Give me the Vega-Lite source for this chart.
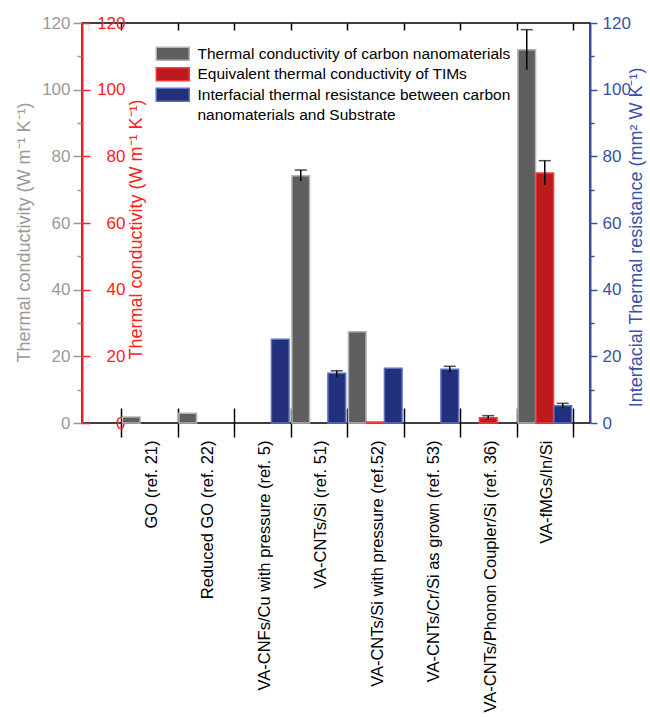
{
  "$schema": "https://vega.github.io/schema/vega-lite/v6.json",
  "width": 508,
  "height": 400,
  "autosize": "none",
  "padding": {"left": 82, "top": 23, "right": 60, "bottom": 294},
  "config": {
    "view": {"stroke": "black", "strokeWidth": 1.5},
    "font": "Liberation Sans",
    "axis": {"grid": false, "titleFontWeight": "normal"}
  },
  "data": {
    "values": [
      {"category": "GO (ref. 21)", "series": "Thermal conductivity of carbon nanomaterials", "value": 1.8, "lo": null, "hi": null},
      {"category": "Reduced GO (ref. 22)", "series": "Thermal conductivity of carbon nanomaterials", "value": 2.9, "lo": null, "hi": null},
      {"category": "VA-CNTs/Si (ref. 51)", "series": "Thermal conductivity of carbon nanomaterials", "value": 74.2, "lo": 72.6, "hi": 75.9},
      {"category": "VA-CNTs/Si with pressure (ref.52)", "series": "Thermal conductivity of carbon nanomaterials", "value": 27.4, "lo": null, "hi": null},
      {"category": "VA-fMGs/In/Si", "series": "Thermal conductivity of carbon nanomaterials", "value": 112, "lo": 106, "hi": 118},
      {"category": "VA-CNTs/Si with pressure (ref.52)", "series": "Equivalent thermal conductivity of TIMs", "value": 0.3, "lo": null, "hi": null},
      {"category": "VA-CNTs/Phonon Coupler/Si (ref. 36)", "series": "Equivalent thermal conductivity of TIMs", "value": 1.6, "lo": 1.1, "hi": 2.2},
      {"category": "VA-fMGs/In/Si", "series": "Equivalent thermal conductivity of TIMs", "value": 75, "lo": 71.5, "hi": 78.7},
      {"category": "VA-CNFs/Cu with pressure (ref. 5)", "series": "Interfacial thermal resistance between carbon nanomaterials and Substrate", "value": 25.1, "lo": null, "hi": null},
      {"category": "VA-CNTs/Si (ref. 51)", "series": "Interfacial thermal resistance between carbon nanomaterials and Substrate", "value": 14.9, "lo": 13.9, "hi": 15.7},
      {"category": "VA-CNTs/Si with pressure (ref.52)", "series": "Interfacial thermal resistance between carbon nanomaterials and Substrate", "value": 16.4, "lo": null, "hi": null},
      {"category": "VA-CNTs/Cr/Si as grown (ref. 53)", "series": "Interfacial thermal resistance between carbon nanomaterials and Substrate", "value": 16.1, "lo": 15.2, "hi": 17},
      {"category": "VA-fMGs/In/Si", "series": "Interfacial thermal resistance between carbon nanomaterials and Substrate", "value": 5.2, "lo": 4.5, "hi": 5.9}
    ]
  },
  "layer": [
    {
      "mark": {"type": "bar", "strokeWidth": 1.5},
      "encoding": {
        "x": {"field": "category", "type": "nominal",
          "scale": {"domain": ["GO (ref. 21)", "Reduced GO (ref. 22)", "VA-CNFs/Cu with pressure (ref. 5)", "VA-CNTs/Si (ref. 51)", "VA-CNTs/Si with pressure (ref.52)", "VA-CNTs/Cr/Si as grown (ref. 53)", "VA-CNTs/Phonon Coupler/Si (ref. 36)", "VA-fMGs/In/Si"], "range": [39, 491], "paddingInner": 0, "paddingOuter": 0},
          "axis": {"orient": "bottom", "domain": false, "tickBand": "extent", "tickSize": 14, "tickWidth": 1.5, "tickColor": "black", "labelAngle": 270, "labelAlign": "right", "labelBaseline": "middle", "labelFontSize": 16.5, "labelColor": "black", "labelPadding": 3, "labelLimit": 0, "labelOffset": 2, "title": null}},
        "xOffset": {"field": "series", "type": "nominal",
          "scale": {"domain": ["Thermal conductivity of carbon nanomaterials", "Equivalent thermal conductivity of TIMs", "Interfacial thermal resistance between carbon nanomaterials and Substrate"], "paddingInner": 0.02, "paddingOuter": 0.08}},
        "y": {"field": "value", "type": "quantitative",
          "scale": {"domain": [0, 120], "nice": false},
          "axis": {"orient": "left", "values": [0, 20, 40, 60, 80, 100, 120], "domain": false, "tickSize": 9, "tickWidth": 1.5, "tickColor": "#999999", "labelColor": "#999999", "labelFontSize": 17, "labelPadding": 3, "title": "Thermal conductivity (W m⁻¹ K⁻¹)", "titleColor": "#999999", "titleFontSize": 18, "titleX": -58, "titleY": 209, "titleAngle": 270, "titleAlign": "center", "titleBaseline": "middle"}},
        "fill": {"field": "series", "type": "nominal",
          "scale": {"domain": ["Thermal conductivity of carbon nanomaterials", "Equivalent thermal conductivity of TIMs", "Interfacial thermal resistance between carbon nanomaterials and Substrate", "nanomaterials and Substrate"], "range": ["#5e5e5e", "#bd1a1e", "#22307c", "transparent"]},
          "legend": {"orient": "none", "legendX": 83, "legendY": 23, "title": null, "symbolType": "M-2.5,-1H2.5V1H-2.5Z", "symbolSize": 174.24, "symbolStrokeWidth": 1.5, "labelFontSize": 15.5, "labelColor": "black", "labelLimit": 0, "labelOffset": 17, "rowPadding": 0.5, "padding": 0,
            "labelExpr": "indexof(datum.label, 'Interfacial') == 0 ? 'Interfacial thermal resistance between carbon' : datum.label"}},
        "stroke": {"field": "series", "type": "nominal",
          "scale": {"domain": ["Thermal conductivity of carbon nanomaterials", "Equivalent thermal conductivity of TIMs", "Interfacial thermal resistance between carbon nanomaterials and Substrate", "nanomaterials and Substrate"], "range": ["#b4b4b4", "#ff3a3a", "#5b6fc4", "transparent"]},
          "legend": {"orient": "none", "legendX": 83, "legendY": 23, "title": null, "symbolType": "M-2.5,-1H2.5V1H-2.5Z", "symbolSize": 174.24, "symbolStrokeWidth": 1.5, "labelFontSize": 15.5, "labelColor": "black", "labelLimit": 0, "labelOffset": 17, "rowPadding": 0.5, "padding": 0,
            "labelExpr": "indexof(datum.label, 'Interfacial') == 0 ? 'Interfacial thermal resistance between carbon' : datum.label"}}
      }
    },
    {
      "transform": [{"filter": "datum.hi != null && datum.series == 'Thermal conductivity of carbon nanomaterials'"}],
      "mark": {"type": "rule", "color": "black", "strokeWidth": 1.5},
      "encoding": {
        "x": {"field": "category", "type": "nominal",
          "axis": {"orient": "bottom", "domain": false, "labels": false, "tickBand": "extent", "tickSize": -15, "tickWidth": 1.5, "tickColor": "black", "title": null}},
        "xOffset": {"field": "series", "type": "nominal"},
        "y": {"field": "lo", "type": "quantitative",
          "axis": {"orient": "left", "values": [10, 30, 50, 70, 90, 110], "domain": false, "labels": false, "tickSize": 5, "tickWidth": 1.5, "tickColor": "#999999", "title": null}},
        "y2": {"field": "hi"}
      }
    },
    {
      "transform": [{"filter": "datum.hi != null && datum.series == 'Equivalent thermal conductivity of TIMs'"}],
      "mark": {"type": "rule", "color": "black", "strokeWidth": 1.5},
      "encoding": {
        "x": {"field": "category", "type": "nominal", "axis": null},
        "xOffset": {"field": "series", "type": "nominal"},
        "y": {"field": "lo", "type": "quantitative",
          "axis": {"orient": "left", "values": [0, 20, 40, 60, 80, 100, 120], "domainColor": "#ff2020", "domainWidth": 2, "tickSize": -8, "tickWidth": 1.5, "tickColor": "#ff2020", "labelColor": "#ff2020", "labelFontSize": 17, "labelAlign": "right", "labelPadding": -35, "title": "Thermal conductivity (W m⁻¹ K⁻¹)", "titleColor": "#ff2020", "titleFontSize": 18, "titleX": 54.5, "titleY": 206, "titleAngle": 270, "titleAlign": "center", "titleBaseline": "middle"}},
        "y2": {"field": "hi"}
      }
    },
    {
      "transform": [{"filter": "datum.hi != null && datum.series == 'Interfacial thermal resistance between carbon nanomaterials and Substrate'"}],
      "mark": {"type": "rule", "color": "black", "strokeWidth": 1.5},
      "encoding": {
        "x": {"field": "category", "type": "nominal", "axis": null},
        "xOffset": {"field": "series", "type": "nominal"},
        "y": {"field": "lo", "type": "quantitative",
          "axis": {"orient": "right", "values": [10, 30, 50, 70, 90, 110], "domain": false, "labels": false, "tickSize": 4, "tickWidth": 1.5, "tickColor": "#3a50a8", "title": null}},
        "y2": {"field": "hi"}
      }
    },
    {
      "transform": [{"filter": "datum.hi != null"}],
      "mark": {"type": "tick", "color": "black", "size": 12, "thickness": 1.5},
      "encoding": {
        "x": {"field": "category", "type": "nominal",
          "axis": {"orient": "top", "domain": false, "labels": false, "tickBand": "extent", "tickSize": -7, "tickWidth": 1.5, "tickColor": "black", "title": null}},
        "xOffset": {"field": "series", "type": "nominal"},
        "y": {"field": "hi", "type": "quantitative",
          "axis": {"orient": "right", "values": [0, 20, 40, 60, 80, 100, 120], "domainColor": "#3a50a8", "domainWidth": 2, "tickSize": 7, "tickWidth": 1.5, "tickColor": "#3a50a8", "labelColor": "#3a50a8", "labelFontSize": 17, "labelPadding": 5, "title": "Interfacial Thermal resistance (mm² W K⁻¹)", "titleColor": "#3a50a8", "titleFontSize": 18, "titleX": 46, "titleY": 214, "titleAngle": 270, "titleAlign": "center", "titleBaseline": "middle"}}
      }
    }
  ],
  "resolve": {"axis": {"x": "independent", "y": "independent"}}
}
